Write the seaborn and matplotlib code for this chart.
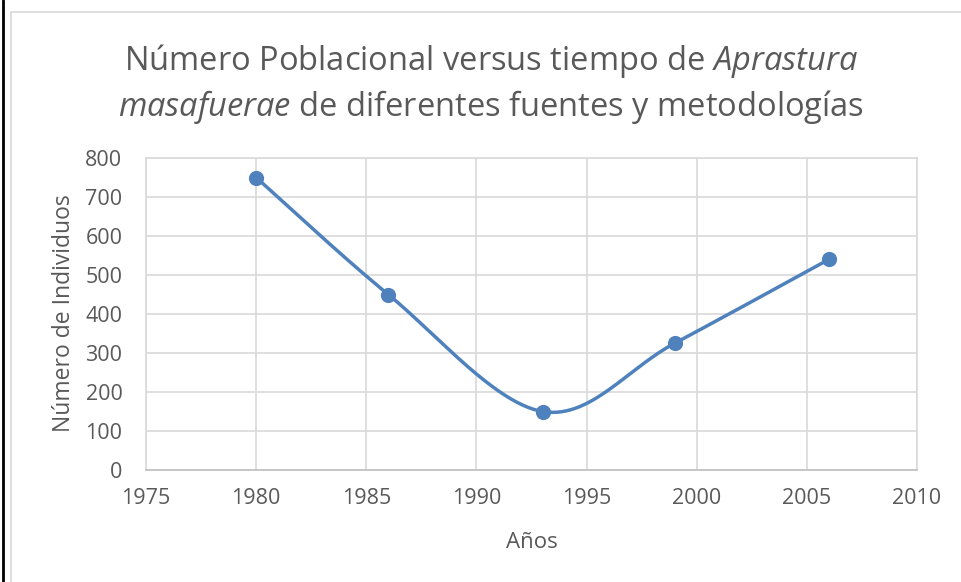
import numpy as np
import pandas as pd
import matplotlib
matplotlib.use("Agg")
import matplotlib.pyplot as plt
import seaborn as sns
from matplotlib.lines import Line2D
from matplotlib.patches import Rectangle

# ---- data ----
years = [1980, 1986, 1993, 1999, 2006]
individuos = [750, 450, 150, 325, 540]
x_ticks = [1975, 1980, 1985, 1990, 1995, 2000, 2005, 2010]
y_ticks = [0, 100, 200, 300, 400, 500, 600, 700, 800]
title_l1 = "Número Poblacional versus tiempo de $\\mathit{Aprastura}$"
title_l2 = "$\\mathit{masafuerae}$ de diferentes fuentes y metodologías"
xlabel = "Años"
ylabel = "Número de Individuos"

sns.set_theme(style="white")
FONT = "Open Sans"
plt.rcParams["font.family"] = [FONT, "DejaVu Sans"]
plt.rcParams["mathtext.fontset"] = "custom"
plt.rcParams["mathtext.rm"] = FONT
plt.rcParams["mathtext.it"] = FONT + ":italic"

TXT = "#595959"
BLUE = "#4F81BD"
GRID = "#D9D9D9"

fig = plt.figure(figsize=(9.61, 5.82), dpi=100)
W, H = 961, 582
ax = fig.add_axes([146 / W, 1 - 470 / H, (917 - 146) / W, (470 - 158) / H])

ax.set_xlim(1975, 2010)
ax.set_ylim(0, 800)
ax.set_xticks(x_ticks)
ax.set_yticks(y_ticks)

# Excel-like smooth curve (Catmull-Rom Bezier in display space)
df = pd.DataFrame({"Año": years, "Individuos": individuos})
pts = ax.transData.transform(np.column_stack([df["Año"], df["Individuos"]]))
n = len(pts)
curve = []
t = np.linspace(0, 1, 60)
for i in range(n - 1):
    p0 = pts[i - 1] if i > 0 else pts[i]
    p1 = pts[i]
    p2 = pts[i + 1]
    p3 = pts[i + 2] if i + 2 < n else pts[i + 1]
    c1 = p1 + (p2 - p0) / 6.0
    c2 = p2 - (p3 - p1) / 6.0
    seg = ((1 - t) ** 3)[:, None] * p1 + (3 * (1 - t) ** 2 * t)[:, None] * c1 \
        + (3 * (1 - t) * t ** 2)[:, None] * c2 + (t ** 3)[:, None] * p2
    curve.append(seg if i == 0 else seg[1:])
curve = ax.transData.inverted().transform(np.vstack(curve))
smooth = pd.DataFrame({"Año": curve[:, 0], "Individuos": curve[:, 1]})

sns.lineplot(data=smooth, x="Año", y="Individuos", sort=False, ax=ax,
             color=BLUE, linewidth=2.5, zorder=3)
sns.scatterplot(data=df, x="Año", y="Individuos", ax=ax, color=BLUE,
                s=120, edgecolor=BLUE, linewidth=0, zorder=4)

ax.set_xlim(1975, 2010)
ax.set_ylim(0, 800)
ax.grid(True, color=GRID, linewidth=1.2)
ax.set_axisbelow(True)
for side in ["top", "right", "left"]:
    ax.spines[side].set_color(GRID)
    ax.spines[side].set_linewidth(1.2)
ax.spines["bottom"].set_color("#BFBFBF")
ax.spines["bottom"].set_linewidth(1.2)
ax.tick_params(length=0, labelsize=15.5, colors=TXT)
ax.tick_params(axis="y", pad=17)
ax.tick_params(axis="x", pad=13)
ax.set_xlabel("")
ax.set_ylabel("")

fig.text(532 / W, 1 - 542 / H, xlabel, ha="center", va="center",
         fontsize=16, color=TXT)
fig.text(64 / W, 1 - 313 / H, ylabel, ha="center", va="center",
         rotation=90, fontsize=16.5, color=TXT)

fig.text(491 / W, 1 - 61 / H, title_l1, ha="center", va="center",
         fontsize=23.5, color=TXT)
fig.text(491 / W, 1 - 107 / H, title_l2, ha="center", va="center",
         fontsize=23.5, color=TXT)

# chart-area border and outer black border
fig.add_artist(Rectangle((11 / W, -0.1), 1.2, 1 - 12 / H + 0.1,
                         transform=fig.transFigure, fill=False,
                         edgecolor=GRID, linewidth=1.2))
fig.add_artist(Line2D([3 / W, 3 / W], [0, 1], transform=fig.transFigure,
                      color="black", linewidth=2))

fig.savefig("out.png", dpi=100)
